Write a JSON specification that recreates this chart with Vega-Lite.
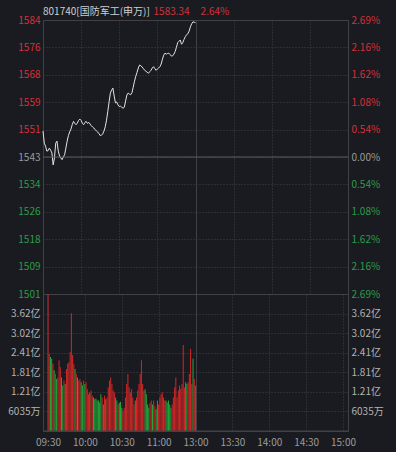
{
  "$schema": "https://vega.github.io/schema/vega-lite/v6.json",
  "background": "#1a1b20",
  "padding": {"left": 7, "top": 6, "right": 12, "bottom": 4},
  "bounds": "flush",
  "spacing": 0,
  "resolve": {"scale": {"color": "independent"}},
  "config": {
    "view": {"stroke": "#404147", "strokeWidth": 1},
    "axis": {"labelFont": "Noto Sans CJK SC", "labelFontSize": 10, "ticks": false, "domain": false, "title": null, "gridColor": "#404147", "gridDash": [1, 2], "labelPadding": 3},
    "axisX": {"labelOverlap": false, "labelFlush": false}
  },
  "datasets": {
    "intraday": [
      {"time": "09:30", "m": 0, "price": 1550.5, "vol": 4.3, "dir": "up"},
      {"time": "09:31", "m": 1, "price": 1546.8, "vol": 2.38, "dir": "up"},
      {"time": "09:32", "m": 2, "price": 1545.9, "vol": 2.28, "dir": "down"},
      {"time": "09:33", "m": 3, "price": 1544.4, "vol": 2.23, "dir": "down"},
      {"time": "09:34", "m": 4, "price": 1544.5, "vol": 2.07, "dir": "up"},
      {"time": "09:35", "m": 5, "price": 1545.3, "vol": 1.87, "dir": "down"},
      {"time": "09:36", "m": 6, "price": 1544.7, "vol": 1.76, "dir": "up"},
      {"time": "09:37", "m": 7, "price": 1543.8, "vol": 1.60, "dir": "down"},
      {"time": "09:38", "m": 8, "price": 1540.2, "vol": 1.65, "dir": "up"},
      {"time": "09:39", "m": 9, "price": 1542.3, "vol": 2.18, "dir": "up"},
      {"time": "09:40", "m": 10, "price": 1546.8, "vol": 1.97, "dir": "up"},
      {"time": "09:41", "m": 11, "price": 1547.4, "vol": 1.65, "dir": "down"},
      {"time": "09:42", "m": 12, "price": 1544.4, "vol": 1.40, "dir": "down"},
      {"time": "09:43", "m": 13, "price": 1542.9, "vol": 1.56, "dir": "up"},
      {"time": "09:44", "m": 14, "price": 1542.3, "vol": 1.45, "dir": "down"},
      {"time": "09:45", "m": 15, "price": 1541.8, "vol": 1.91, "dir": "up"},
      {"time": "09:46", "m": 16, "price": 1542.6, "vol": 2.07, "dir": "up"},
      {"time": "09:47", "m": 17, "price": 1543.3, "vol": 2.12, "dir": "up"},
      {"time": "09:48", "m": 18, "price": 1545.3, "vol": 2.44, "dir": "up"},
      {"time": "09:49", "m": 19, "price": 1547.4, "vol": 3.63, "dir": "up"},
      {"time": "09:50", "m": 20, "price": 1549.1, "vol": 2.34, "dir": "up"},
      {"time": "09:51", "m": 21, "price": 1550.2, "vol": 2.07, "dir": "up"},
      {"time": "09:52", "m": 22, "price": 1551.1, "vol": 1.91, "dir": "down"},
      {"time": "09:53", "m": 23, "price": 1552.4, "vol": 1.76, "dir": "up"},
      {"time": "09:54", "m": 24, "price": 1553.4, "vol": 1.65, "dir": "down"},
      {"time": "09:55", "m": 25, "price": 1552.8, "vol": 1.56, "dir": "up"},
      {"time": "09:56", "m": 26, "price": 1552.4, "vol": 1.60, "dir": "up"},
      {"time": "09:57", "m": 27, "price": 1552.9, "vol": 1.50, "dir": "down"},
      {"time": "09:58", "m": 28, "price": 1553.7, "vol": 1.40, "dir": "down"},
      {"time": "09:59", "m": 29, "price": 1554.1, "vol": 1.56, "dir": "up"},
      {"time": "10:00", "m": 30, "price": 1553.7, "vol": 1.45, "dir": "down"},
      {"time": "10:01", "m": 31, "price": 1552.8, "vol": 1.50, "dir": "up"},
      {"time": "10:02", "m": 32, "price": 1552.4, "vol": 1.29, "dir": "up"},
      {"time": "10:03", "m": 33, "price": 1553.1, "vol": 1.13, "dir": "up"},
      {"time": "10:04", "m": 34, "price": 1553.4, "vol": 1.19, "dir": "down"},
      {"time": "10:05", "m": 35, "price": 1552.8, "vol": 1.25, "dir": "up"},
      {"time": "10:06", "m": 36, "price": 1553.1, "vol": 1.09, "dir": "up"},
      {"time": "10:07", "m": 37, "price": 1552.6, "vol": 1.03, "dir": "down"},
      {"time": "10:08", "m": 38, "price": 1552.1, "vol": 0.98, "dir": "down"},
      {"time": "10:09", "m": 39, "price": 1551.7, "vol": 1.00, "dir": "down"},
      {"time": "10:10", "m": 40, "price": 1551.4, "vol": 0.94, "dir": "down"},
      {"time": "10:11", "m": 41, "price": 1550.9, "vol": 0.94, "dir": "down"},
      {"time": "10:12", "m": 42, "price": 1550.5, "vol": 0.88, "dir": "down"},
      {"time": "10:13", "m": 43, "price": 1550.2, "vol": 1.13, "dir": "down"},
      {"time": "10:14", "m": 44, "price": 1549.7, "vol": 1.03, "dir": "up"},
      {"time": "10:15", "m": 45, "price": 1549.1, "vol": 0.82, "dir": "down"},
      {"time": "10:16", "m": 46, "price": 1549.2, "vol": 1.09, "dir": "up"},
      {"time": "10:17", "m": 47, "price": 1549.6, "vol": 0.98, "dir": "down"},
      {"time": "10:18", "m": 48, "price": 1550.5, "vol": 1.03, "dir": "up"},
      {"time": "10:19", "m": 49, "price": 1551.8, "vol": 1.34, "dir": "up"},
      {"time": "10:20", "m": 50, "price": 1553.8, "vol": 1.56, "dir": "up"},
      {"time": "10:21", "m": 51, "price": 1556.5, "vol": 1.65, "dir": "up"},
      {"time": "10:22", "m": 52, "price": 1559.3, "vol": 1.45, "dir": "up"},
      {"time": "10:23", "m": 53, "price": 1562.0, "vol": 1.25, "dir": "up"},
      {"time": "10:24", "m": 54, "price": 1562.9, "vol": 1.19, "dir": "up"},
      {"time": "10:25", "m": 55, "price": 1563.5, "vol": 1.03, "dir": "down"},
      {"time": "10:26", "m": 56, "price": 1561.1, "vol": 0.94, "dir": "down"},
      {"time": "10:27", "m": 57, "price": 1559.0, "vol": 0.82, "dir": "up"},
      {"time": "10:28", "m": 58, "price": 1559.3, "vol": 0.87, "dir": "down"},
      {"time": "10:29", "m": 59, "price": 1558.4, "vol": 0.90, "dir": "down"},
      {"time": "10:30", "m": 60, "price": 1557.9, "vol": 0.72, "dir": "down"},
      {"time": "10:31", "m": 61, "price": 1558.0, "vol": 0.62, "dir": "up"},
      {"time": "10:32", "m": 62, "price": 1557.7, "vol": 0.72, "dir": "up"},
      {"time": "10:33", "m": 63, "price": 1557.4, "vol": 1.03, "dir": "up"},
      {"time": "10:34", "m": 64, "price": 1557.7, "vol": 1.45, "dir": "up"},
      {"time": "10:35", "m": 65, "price": 1559.6, "vol": 1.76, "dir": "up"},
      {"time": "10:36", "m": 66, "price": 1561.4, "vol": 1.34, "dir": "up"},
      {"time": "10:37", "m": 67, "price": 1562.0, "vol": 1.19, "dir": "up"},
      {"time": "10:38", "m": 68, "price": 1561.7, "vol": 1.29, "dir": "up"},
      {"time": "10:39", "m": 69, "price": 1561.5, "vol": 1.03, "dir": "up"},
      {"time": "10:40", "m": 70, "price": 1562.1, "vol": 0.82, "dir": "up"},
      {"time": "10:41", "m": 71, "price": 1563.8, "vol": 0.94, "dir": "down"},
      {"time": "10:42", "m": 72, "price": 1565.6, "vol": 1.03, "dir": "up"},
      {"time": "10:43", "m": 73, "price": 1567.1, "vol": 1.25, "dir": "up"},
      {"time": "10:44", "m": 74, "price": 1568.3, "vol": 1.45, "dir": "up"},
      {"time": "10:45", "m": 75, "price": 1569.6, "vol": 1.76, "dir": "up"},
      {"time": "10:46", "m": 76, "price": 1570.5, "vol": 2.18, "dir": "up"},
      {"time": "10:47", "m": 77, "price": 1570.3, "vol": 1.45, "dir": "up"},
      {"time": "10:48", "m": 78, "price": 1569.9, "vol": 1.25, "dir": "up"},
      {"time": "10:49", "m": 79, "price": 1569.4, "vol": 1.29, "dir": "down"},
      {"time": "10:50", "m": 80, "price": 1568.9, "vol": 1.13, "dir": "down"},
      {"time": "10:51", "m": 81, "price": 1568.6, "vol": 0.82, "dir": "down"},
      {"time": "10:52", "m": 82, "price": 1568.3, "vol": 0.72, "dir": "down"},
      {"time": "10:53", "m": 83, "price": 1568.0, "vol": 0.87, "dir": "up"},
      {"time": "10:54", "m": 84, "price": 1568.5, "vol": 0.94, "dir": "up"},
      {"time": "10:55", "m": 85, "price": 1568.9, "vol": 0.82, "dir": "down"},
      {"time": "10:56", "m": 86, "price": 1569.6, "vol": 0.94, "dir": "up"},
      {"time": "10:57", "m": 87, "price": 1570.0, "vol": 0.77, "dir": "up"},
      {"time": "10:58", "m": 88, "price": 1569.4, "vol": 0.67, "dir": "down"},
      {"time": "10:59", "m": 89, "price": 1568.9, "vol": 0.94, "dir": "down"},
      {"time": "11:00", "m": 90, "price": 1569.3, "vol": 0.82, "dir": "up"},
      {"time": "11:01", "m": 91, "price": 1569.6, "vol": 1.03, "dir": "up"},
      {"time": "11:02", "m": 92, "price": 1570.0, "vol": 1.13, "dir": "up"},
      {"time": "11:03", "m": 93, "price": 1570.8, "vol": 1.19, "dir": "up"},
      {"time": "11:04", "m": 94, "price": 1572.3, "vol": 1.03, "dir": "up"},
      {"time": "11:05", "m": 95, "price": 1573.5, "vol": 0.94, "dir": "up"},
      {"time": "11:06", "m": 96, "price": 1574.1, "vol": 0.94, "dir": "down"},
      {"time": "11:07", "m": 97, "price": 1573.8, "vol": 0.88, "dir": "down"},
      {"time": "11:08", "m": 98, "price": 1574.0, "vol": 0.94, "dir": "down"},
      {"time": "11:09", "m": 99, "price": 1574.1, "vol": 0.82, "dir": "down"},
      {"time": "11:10", "m": 100, "price": 1573.7, "vol": 0.72, "dir": "down"},
      {"time": "11:11", "m": 101, "price": 1573.2, "vol": 0.82, "dir": "up"},
      {"time": "11:12", "m": 102, "price": 1573.3, "vol": 1.03, "dir": "up"},
      {"time": "11:13", "m": 103, "price": 1573.8, "vol": 1.34, "dir": "up"},
      {"time": "11:14", "m": 104, "price": 1574.6, "vol": 1.65, "dir": "up"},
      {"time": "11:15", "m": 105, "price": 1575.9, "vol": 1.03, "dir": "up"},
      {"time": "11:16", "m": 106, "price": 1577.3, "vol": 1.25, "dir": "up"},
      {"time": "11:17", "m": 107, "price": 1577.7, "vol": 1.40, "dir": "up"},
      {"time": "11:18", "m": 108, "price": 1578.1, "vol": 1.30, "dir": "up"},
      {"time": "11:19", "m": 109, "price": 1576.8, "vol": 1.45, "dir": "up"},
      {"time": "11:20", "m": 110, "price": 1577.3, "vol": 2.65, "dir": "up"},
      {"time": "11:21", "m": 111, "price": 1578.3, "vol": 1.34, "dir": "up"},
      {"time": "11:22", "m": 112, "price": 1579.1, "vol": 1.50, "dir": "down"},
      {"time": "11:23", "m": 113, "price": 1579.7, "vol": 1.45, "dir": "down"},
      {"time": "11:24", "m": 114, "price": 1580.0, "vol": 1.50, "dir": "up"},
      {"time": "11:25", "m": 115, "price": 1580.8, "vol": 1.76, "dir": "up"},
      {"time": "11:26", "m": 116, "price": 1582.1, "vol": 2.54, "dir": "up"},
      {"time": "11:27", "m": 117, "price": 1583.0, "vol": 1.45, "dir": "up"},
      {"time": "11:28", "m": 118, "price": 1583.6, "vol": 2.23, "dir": "down"},
      {"time": "11:29", "m": 119, "price": 1583.5, "vol": 1.60, "dir": "up"},
      {"time": "11:30", "m": 120, "price": 1583.34, "vol": 1.40, "dir": "up"}
    ],
    "header": [
      {"label": "801740[国防军工(申万)]", "m": 0, "kind": "name"},
      {"label": "1583.34", "m": 87, "kind": "quote"},
      {"label": "2.64%", "m": 124, "kind": "quote"}
    ]
  },
  "vconcat": [
    {
      "width": 305,
      "height": 274,
      "layer": [
        {
          "data": {"name": "intraday"},
          "mark": {"type": "line", "color": "#e4e4e4", "strokeWidth": 1},
          "encoding": {
            "x": {
              "field": "m", "type": "quantitative",
              "scale": {"domain": [0, 240], "nice": false, "zero": false},
              "axis": {
                "values": [30, 60, 90, 120, 150, 180, 210],
                "labels": false,
                "grid": true,
                "gridDash": {"condition": {"test": "datum.value == 120", "value": [1, 0]}, "value": [1, 2]},
                "gridColor": {"condition": {"test": "datum.value == 120", "value": "#4c4d53"}, "value": "#404147"}
              }
            },
            "y": {
              "field": "price", "type": "quantitative",
              "scale": {"domain": [1501.04, 1584.16], "nice": false, "zero": false},
              "axis": {
                "orient": "left",
                "values": [1501.04, 1509.35, 1517.66, 1525.98, 1534.29, 1542.6, 1550.91, 1559.22, 1567.54, 1575.85, 1584.16],
                "labelExpr": "format(datum.value, '.0f')",
                "grid": true,
                "labelColor": {"condition": [{"test": "datum.value > 1543", "value": "#d3313a"}, {"test": "datum.value < 1542", "value": "#2b9c4a"}], "value": "#9b9b9b"}
              }
            }
          }
        },
        {
          "data": {"values": [{}]},
          "mark": {"type": "rule", "color": "#5a5b60", "strokeWidth": 1},
          "encoding": {
            "y": {
              "datum": 1542.6, "type": "quantitative",
              "axis": {
                "orient": "right",
                "values": [1501.04, 1509.35, 1517.66, 1525.98, 1534.29, 1542.6, 1550.91, 1559.22, 1567.54, 1575.85, 1584.16],
                "labelExpr": "format(abs(datum.value - 1542.6) / 1542.6 * 100, '.2f') + '%'",
                "grid": false,
                "labelColor": {"condition": [{"test": "datum.value > 1543", "value": "#d3313a"}, {"test": "datum.value < 1542", "value": "#2b9c4a"}], "value": "#9b9b9b"}
              }
            }
          }
        },
        {
          "data": {"name": "header"},
          "mark": {"type": "text", "align": "left", "baseline": "middle", "dy": -8, "font": "Noto Sans CJK SC", "fontSize": 10},
          "encoding": {
            "x": {
              "field": "m", "type": "quantitative",
              "axis": {
                "values": [30, 60, 90, 120, 150, 180, 210],
                "labels": false,
                "grid": true,
                "gridDash": {"condition": {"test": "datum.value == 120", "value": [1, 0]}, "value": [1, 2]},
                "gridColor": {"condition": {"test": "datum.value == 120", "value": "#4c4d53"}, "value": "#404147"}
              }
            },
            "y": {"datum": 1584.16, "type": "quantitative", "axis": null},
            "text": {"field": "label"},
            "color": {"field": "kind", "type": "nominal", "scale": {"domain": ["name", "quote"], "range": ["#cfcfcf", "#d3313a"]}, "legend": null}
          }
        }
      ],
      "resolve": {"axis": {"y": "independent"}}
    },
    {
      "width": 305,
      "height": 137,
      "layer": [
        {
          "data": {"name": "intraday"},
          "mark": {"type": "bar", "width": 1, "clip": true},
          "encoding": {
            "x": {
              "field": "m", "type": "quantitative",
              "scale": {"domain": [0, 240], "nice": false, "zero": false},
              "axis": {
                "orient": "bottom",
                "values": [0, 30, 60, 90, 120, 150, 180, 210, 240],
                "labelExpr": "datum.value == 0 ? '09:30' : datum.value == 30 ? '10:00' : datum.value == 60 ? '10:30' : datum.value == 90 ? '11:00' : datum.value == 120 ? '13:00' : datum.value == 150 ? '13:30' : datum.value == 180 ? '14:00' : datum.value == 210 ? '14:30' : '15:00'",
                "labelFlush": false,
                "labelOverlap": false,
                "labelPadding": 6,
                "labelColor": "#9c9c9c",
                "grid": true,
                "gridDash": {"condition": {"test": "datum.value == 120", "value": [1, 0]}, "value": [1, 2]},
                "gridColor": {"condition": {"test": "datum.value == 120", "value": "#4c4d53"}, "value": "#404147"}
              }
            },
            "y": {
              "field": "vol", "type": "quantitative",
              "scale": {"domain": [0, 4.2245], "nice": false},
              "axis": {
                "orient": "left",
                "values": [0.6035, 1.207, 1.8106, 2.414, 3.0176, 3.621],
                "labelExpr": "datum.value < 1 ? format(datum.value * 10000, '.0f') + '万' : format(datum.value, '.2f') + '亿'",
                "labelColor": "#b3b3b3",
                "grid": true
              }
            },
            "color": {"field": "dir", "type": "nominal", "scale": {"domain": ["up", "down"], "range": ["#d42626", "#22a83a"]}, "legend": null}
          }
        },
        {
          "data": {"values": [{}]},
          "mark": {"type": "rule", "color": "#404147", "strokeWidth": 1},
          "encoding": {
            "y": {
              "datum": 0, "type": "quantitative",
              "axis": {
                "orient": "right",
                "values": [0.6035, 1.207, 1.8106, 2.414, 3.0176, 3.621],
                "labelExpr": "datum.value < 1 ? format(datum.value * 10000, '.0f') + '万' : format(datum.value, '.2f') + '亿'",
                "labelColor": "#b3b3b3",
                "grid": false
              }
            }
          }
        }
      ],
      "resolve": {"axis": {"y": "independent"}}
    }
  ]
}
